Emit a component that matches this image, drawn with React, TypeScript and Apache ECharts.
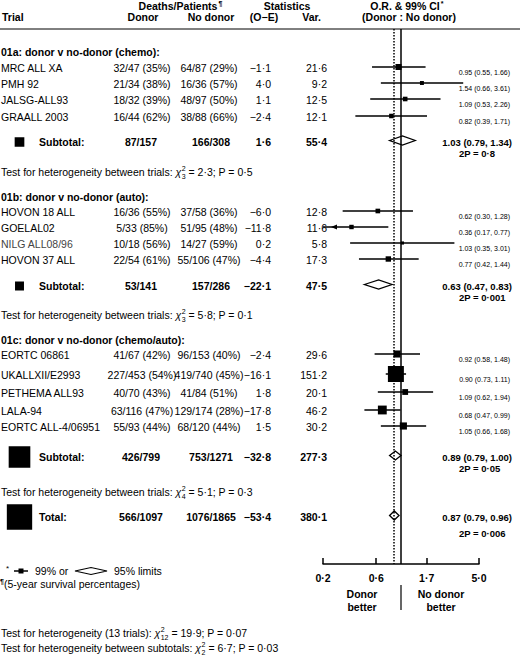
import React, { useEffect, useRef } from "react";
import * as echarts from "echarts";

// ---- data ----
const trialNames = [
  "MRC ALL XA", "PMH 92", "JALSG-ALL93", "GRAALL 2003",
  "HOVON 18 ALL", "GOELAL02", "NILG ALL08/96", "HOVON 37 ALL",
  "EORTC 06861", "UKALLXII/E2993", "PETHEMA ALL93", "LALA-94", "EORTC ALL-4/06951",
];
const donorCounts = [
  "32/47 (35%)", "21/34 (38%)", "18/32 (39%)", "16/44 (62%)",
  "16/36 (55%)", "5/33 (85%)", "10/18 (56%)", "22/54 (61%)",
  "41/67 (42%)", "227/453 (54%)", "40/70 (43%)", "63/116 (47%)", "55/93 (44%)",
];
const noDonorCounts = [
  "64/87 (29%)", "16/36 (57%)", "48/97 (50%)", "38/88 (66%)",
  "37/58 (36%)", "51/95 (48%)", "14/27 (59%)", "55/106 (47%)",
  "96/153 (40%)", "419/740 (45%)", "41/84 (51%)", "129/174 (28%)", "68/120 (44%)",
];
const obsMinusExp = [-1.1, 4.0, 1.1, -2.4, -6.0, -11.8, 0.2, -4.4, -2.4, -16.1, 1.8, -17.8, 1.5];
const variances = [21.6, 9.2, 12.5, 12.1, 12.8, 11.6, 5.8, 17.3, 29.6, 151.2, 20.1, 46.2, 30.2];
const oddsRatios = [0.95, 1.54, 1.09, 0.82, 0.62, 0.36, 1.03, 0.77, 0.92, 0.9, 1.09, 0.68, 1.05];
const ciLow = [0.55, 0.66, 0.53, 0.39, 0.3, 0.17, 0.35, 0.42, 0.58, 0.73, 0.62, 0.47, 0.66];
const ciHigh = [1.66, 3.61, 2.26, 1.71, 1.28, 0.77, 3.01, 1.44, 1.48, 1.11, 1.94, 0.99, 1.68];

const groupTitles = [
  "01a: donor v no-donor (chemo):",
  "01b: donor v no-donor (auto):",
  "01c: donor v no-donor (chemo/auto):",
];
const subDonor = ["87/157", "53/141", "426/799"];
const subNoDonor = ["166/308", "157/286", "753/1271"];
const subOE = [1.6, -22.1, -32.8];
const subVar = [55.4, 47.5, 277.3];
const subOR = [1.03, 0.63, 0.89];
const subLow = [0.79, 0.47, 0.79];
const subHigh = [1.34, 0.83, 1.0];
const subP = ["0·8", "0·001", "0·05"];
const hetDf = ["3", "3", "4"];
const hetChi = ["2·3", "5·8", "5·1"];
const hetP = ["0·5", "0·1", "0·3"];

const totalDonor = "566/1097";
const totalNoDonor = "1076/1865";
const totalOE = -53.4;
const totalVar = 380.1;
const totalOR = 0.87;
const totalLow = 0.79;
const totalHigh = 0.96;
const totalP = "0·006";

const tickValues = [0.2, 0.6, 1.7, 5.0];
const tickLabels = ["0·2", "0·6", "1·7", "5·0"];

// ---- layout ----
const FONT = "'Liberation Sans', Arial, sans-serif";
const FS = 10.5;
const trialRowY = [68, 84, 100, 117, 212, 228, 244, 260, 355, 375, 393, 411, 427];
const groupTitleY = [52, 197, 340];
const subtotalY = [142, 286, 457];
const hetY = [172, 315, 492];
const totalY = 517;
const BOX_K = 1.3;

const fmt = (v: number) => (v < 0 ? "−" : "") + Math.abs(v).toFixed(1).replace(".", "·");
const orText = (o: number, l: number, h: number) =>
  `${o.toFixed(2)} (${l.toFixed(2)}, ${h.toFixed(2)})`;

const canvas = document.createElement("canvas");
const ctx = canvas.getContext("2d")!;
const textWidth = (s: string, size: number, bold = false, italic = false) => {
  ctx.font = `${italic ? "italic " : ""}${bold ? "bold " : ""}${size}px ${FONT}`;
  return ctx.measureText(s).width;
};

type TOpt = { size?: number; bold?: boolean; align?: string; color?: string; italic?: boolean };
const T = (x: number, y: number, text: string, o: TOpt = {}) => ({
  type: "text",
  x,
  y,
  silent: true,
  style: {
    text,
    fontSize: o.size ?? FS,
    fontWeight: o.bold ? "bold" : "normal",
    fontStyle: o.italic ? "italic" : "normal",
    fontFamily: FONT,
    fill: o.color ?? "#000",
    align: o.align ?? "left",
    textAlign: o.align ?? "left",
    verticalAlign: "middle",
    textVerticalAlign: "middle",
  },
});

// "prefix χ²_df = chi; P = p"
const chiLine = (x: number, y: number, prefix: string, df: string, chi: string, p: string) => {
  const els: any[] = [];
  els.push(T(x, y, prefix, {}));
  let cx = x + textWidth(prefix, FS);
  els.push(T(cx, y, "χ", { italic: true }));
  cx += textWidth("χ", FS, false, true) + 0.5;
  els.push(T(cx, y - 4, "2", { size: 7 }));
  els.push(T(cx, y + 4, df, { size: 7 }));
  cx += Math.max(textWidth("2", 7), textWidth(df, 7));
  els.push(T(cx, y, ` = ${chi}; P = ${p}`, {}));
  return els;
};

const buildGraphic = () => {
  const g: any[] = [];
  // header
  const dp = "Deaths/Patients";
  g.push(T(178, 6, dp, { bold: true, align: "center" }));
  g.push(T(178 + textWidth(dp, FS, true) / 2 + 1, 3, "¶", { size: 7, bold: true }));
  g.push(T(287, 6, "Statistics", { bold: true, align: "center" }));
  const orh = "O.R. & 99% CI";
  g.push(T(405, 6, orh, { bold: true, align: "center" }));
  g.push(T(405 + textWidth(orh, FS, true) / 2 + 1, 3, "*", { size: 7, bold: true }));
  g.push(T(2, 17, "Trial", { bold: true }));
  g.push(T(143, 17, "Donor", { bold: true, align: "center" }));
  g.push(T(211, 17, "No donor", { bold: true, align: "center" }));
  g.push(T(264, 17, "(O−E)", { bold: true, align: "center" }));
  g.push(T(321, 17, "Var.", { bold: true, align: "right" }));
  g.push(T(409, 17, "(Donor : No donor)", { bold: true, align: "center" }));
  g.push({ type: "line", silent: true, shape: { x1: 0, y1: 29, x2: 520, y2: 29 }, style: { stroke: "#000", lineWidth: 1 } });

  // groups
  groupTitles.forEach((t, gi) => g.push(T(1, groupTitleY[gi], t, { bold: true })));

  // trial rows
  trialNames.forEach((n, i) => {
    const y = trialRowY[i];
    g.push(T(1, y, n, { color: n.startsWith("NILG") ? "#444" : "#000" }));
    g.push(T(142, y, donorCounts[i], { align: "center" }));
    g.push(T(209, y, noDonorCounts[i], { align: "center" }));
    g.push(T(271, y, fmt(obsMinusExp[i]), { align: "right" }));
    g.push(T(327, y, fmt(variances[i]), { align: "right" }));
    g.push(T(510, y + 4, orText(oddsRatios[i], ciLow[i], ciHigh[i]), { size: 7, align: "right" }));
  });

  // subtotal rows + total
  const sumRow = (y: number, label: string, d: string, nd: string, oe: number, v: number, o: number, l: number, h: number, p: string, pdy: number) => {
    const s = BOX_K * Math.sqrt(v);
    g.push({ type: "rect", silent: true, shape: { x: 19.5 - s / 2, y: y - s / 2, width: s, height: s }, style: { fill: "#000" } });
    g.push(T(39, y, label, { bold: true }));
    g.push(T(141, y, d, { bold: true, align: "center" }));
    g.push(T(211, y, nd, { bold: true, align: "center" }));
    g.push(T(271, y, fmt(oe), { bold: true, align: "right" }));
    g.push(T(327, y, fmt(v), { bold: true, align: "right" }));
    g.push(T(512, y, orText(o, l, h), { bold: true, size: 9.5, align: "right" }));
    g.push(T(459, y + pdy, `2P = ${p}`, { bold: true, size: 9.5 }));
  };
  subtotalY.forEach((y, k) =>
    sumRow(y, "Subtotal:", subDonor[k], subNoDonor[k], subOE[k], subVar[k], subOR[k], subLow[k], subHigh[k], subP[k], 11)
  );
  sumRow(totalY, "Total:", totalDonor, totalNoDonor, totalOE, totalVar, totalOR, totalLow, totalHigh, totalP, 16);

  hetY.forEach((y, k) => g.push(...chiLine(1, y, "Test for heterogeneity between trials: ", hetDf[k], hetChi[k], hetP[k])));

  // legend
  g.push(T(6, 568, "*", { size: 8 }));
  g.push({ type: "line", silent: true, shape: { x1: 14, y1: 571, x2: 28, y2: 571 }, style: { stroke: "#000", lineWidth: 1.5 } });
  g.push({ type: "rect", silent: true, shape: { x: 18.5, y: 568.5, width: 5, height: 5 }, style: { fill: "#000" } });
  g.push(T(35, 571, "99% or", {}));
  g.push({ type: "polygon", silent: true, shape: { points: [[75, 571], [91, 567.5], [107, 571], [91, 574.5]] }, style: { fill: "#fff", stroke: "#000", lineWidth: 1.2 } });
  g.push(T(114, 571, "95% limits", {}));
  g.push(T(0, 581, "¶", { size: 7, bold: true }));
  g.push(T(4, 584, "(5-year survival percentages)", {}));

  g.push(...chiLine(1, 633, "Test for heterogeneity (13 trials): ", "12", "19·9", "0·07"));
  g.push(...chiLine(1, 648, "Test for heterogeneity between subtotals: ", "2", "6·7", "0·03"));
  return g;
};

const App: React.FC = () => {
  const chartRef = useRef<HTMLDivElement>(null);

  useEffect(() => {
    document.body.style.margin = "0";
    if (!chartRef.current) return;
    const chart = echarts.init(chartRef.current, undefined, { renderer: "svg" });
    const xMin = Math.log(tickValues[0]);
    const xMax = Math.log(tickValues[tickValues.length - 1]);

    const trialData = trialNames.map((_, i) => [
      Math.log(oddsRatios[i]), Math.log(ciLow[i]), Math.log(ciHigh[i]), trialRowY[i], variances[i],
    ]);
    const diamondData = [
      ...subOR.map((o, k) => [Math.log(o), Math.log(subLow[k]), Math.log(subHigh[k]), subtotalY[k]]),
      [Math.log(totalOR), Math.log(totalLow), Math.log(totalHigh), totalY],
    ];

    chart.setOption({
      animation: false,
      textStyle: { fontFamily: FONT },
      grid: { left: 323, right: 41, top: 29, bottom: 92 },
      xAxis: {
        type: "value",
        min: xMin,
        max: xMax,
        axisLine: { lineStyle: { color: "#000", width: 1.5 } },
        axisTick: {
          inside: true,
          length: 6,
          customValues: tickValues.map(Math.log),
          lineStyle: { color: "#000", width: 1.5 },
        },
        axisLabel: {
          customValues: tickValues.map(Math.log),
          color: "#000",
          fontWeight: "bold",
          fontSize: 10.5,
          fontFamily: FONT,
          margin: 8,
          showMinLabel: true,
          showMaxLabel: true,
          formatter: (v: number) => {
            const i = tickValues.findIndex((t) => Math.abs(Math.log(t) - v) < 1e-6);
            return i >= 0 ? tickLabels[i] : "";
          },
        },
        splitLine: { show: false },
      },
      yAxis: { type: "value", min: 29, max: 564, inverse: true, show: false },
      series: [
        {
          type: "scatter",
          data: [],
          z: 1,
          markLine: {
            silent: true,
            symbol: ["none", "none"],
            label: { show: false },
            data: [
              { xAxis: 0, lineStyle: { type: "solid", width: 1.5, color: "#000" } },
              { xAxis: Math.log(totalOR), lineStyle: { type: "dotted", width: 1.5, color: "#000" } },
            ],
          },
        },
        {
          type: "custom",
          z: 3,
          data: trialData,
          renderItem: (_p: any, api: any) => {
            const yv = api.value(3);
            const [cx, cyRaw] = api.coord([api.value(0), yv]);
            const cy = cyRaw - 1;
            const lo = api.value(1);
            const hi = api.value(2);
            const x0 = api.coord([Math.max(lo, xMin), yv])[0];
            const x1 = api.coord([Math.min(hi, xMax), yv])[0];
            const s = BOX_K * Math.sqrt(api.value(4));
            const children: any[] = [
              { type: "line", shape: { x1: x0, y1: cy, x2: x1, y2: cy }, style: { stroke: "#000", lineWidth: 1.5 } },
              { type: "rect", shape: { x: cx - s / 2, y: cy - s / 2, width: s, height: s }, style: { fill: "#000" } },
            ];
            if (lo < xMin) {
              children.push({
                type: "polygon",
                shape: { points: [[x0 + 8, cy], [x0 + 14, cy - 2.5], [x0 + 14, cy + 2.5]] },
                style: { fill: "#000" },
              });
            }
            return { type: "group", children };
          },
        },
        {
          type: "custom",
          z: 4,
          data: diamondData,
          renderItem: (_p: any, api: any) => {
            const yv = api.value(3);
            const [cx, cyRaw] = api.coord([api.value(0), yv]);
            const cy = cyRaw - 1.5;
            const x0 = api.coord([api.value(1), yv])[0];
            const x1 = api.coord([api.value(2), yv])[0];
            return {
              type: "polygon",
              shape: { points: [[x0, cy], [cx, cy - 4.5], [x1, cy], [cx, cy + 4.5]] },
              style: { fill: "#fff", stroke: "#000", lineWidth: 1.3 },
            };
          },
        },
        {
          type: "custom",
          z: 4,
          data: [[0, 300]],
          renderItem: (_p: any, api: any) => {
            const x = api.coord([api.value(0), api.value(1)])[0];
            return {
              type: "group",
              children: [
                { type: "line", shape: { x1: x, y1: 585, x2: x, y2: 610 }, style: { stroke: "#000", lineWidth: 1.2 } },
                T(x - 39, 594, "Donor", { bold: true, align: "center" }),
                T(x - 39, 607, "better", { bold: true, align: "center" }),
                T(x + 40, 594, "No donor", { bold: true, align: "center" }),
                T(x + 40, 607, "better", { bold: true, align: "center" }),
              ],
            };
          },
        },
      ],
      graphic: buildGraphic(),
    });

    return () => {
      chart.dispose();
    };
  }, []);

  return <div ref={chartRef} style={{ width: "520px", height: "656px" }} />;
};

export default App;
